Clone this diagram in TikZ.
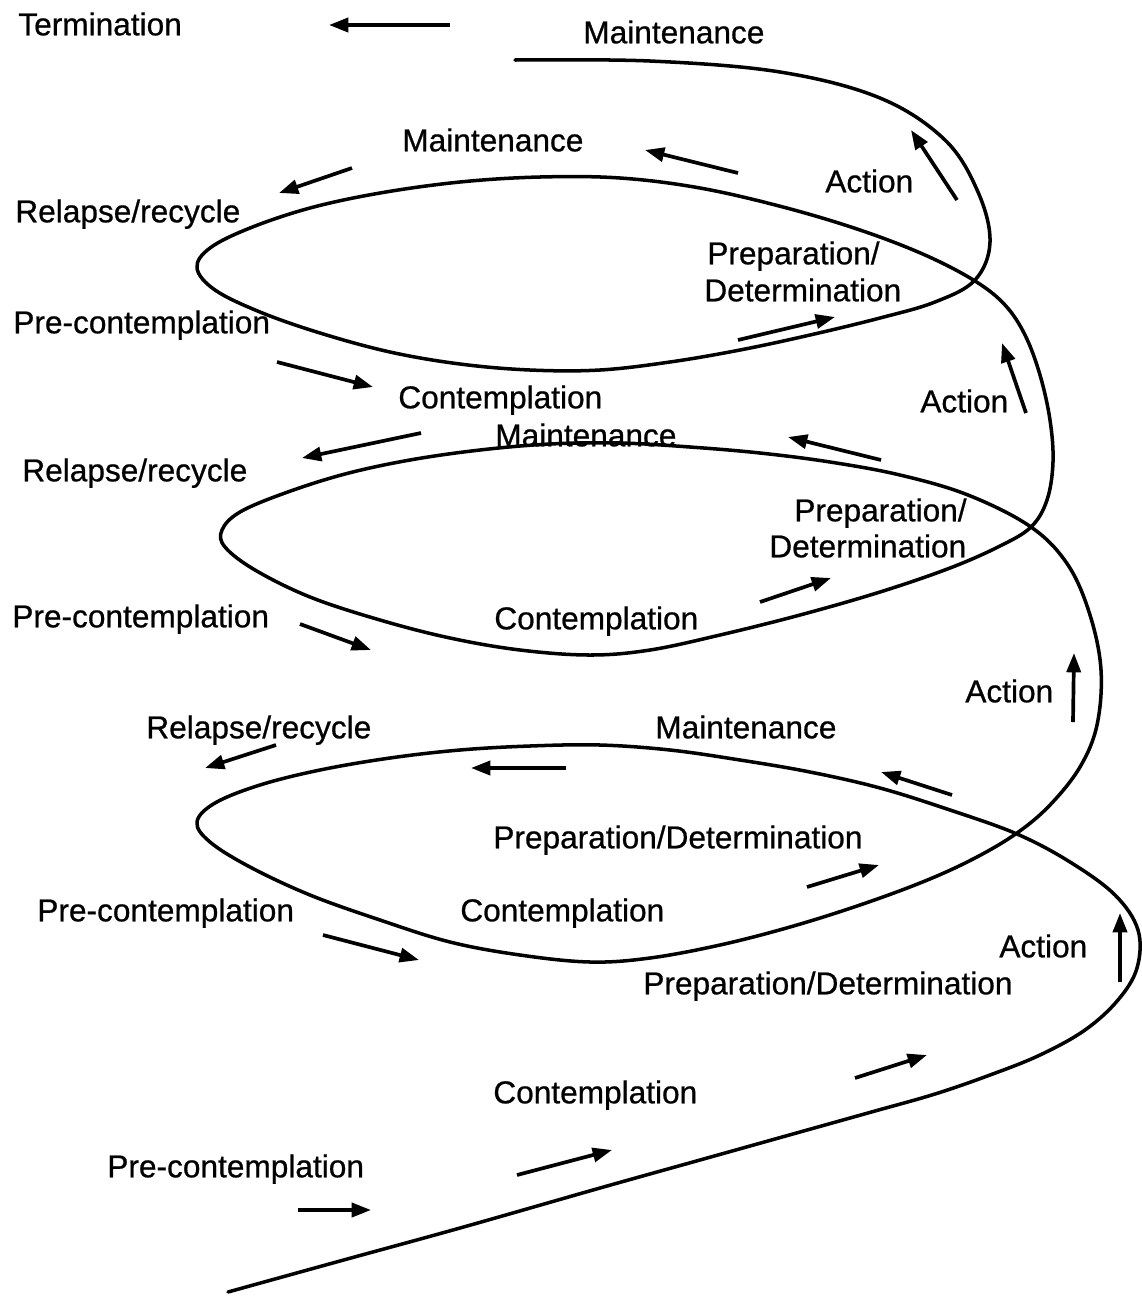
\documentclass[tikz,border=0pt]{standalone}
\usepackage{fontspec}
\setmainfont{Liberation Sans}
\newfontfamily\lblfont{Liberation Sans}[FakeBold=0.7]
\usetikzlibrary{arrows.meta}
\begin{document}
\begin{tikzpicture}[x=0.02cm,y=-0.02cm,
  lbl/.style={anchor=west,inner sep=0pt,text height=0.716em,text depth=0pt,font=\lblfont\fontsize{18}{20}\selectfont},
  arr/.style={line width=2.1pt,-{Triangle[length=11pt,width=8pt]}},
  spiral/.style={line width=2pt,line join=round,line cap=round}]
\useasboundingbox (0,0) rectangle (1142,1296);

% spiral
\draw[spiral] plot[smooth,tension=0.6] coordinates {
(515,60) (650,61) (780,72) (880,98) (945,140) (978,192) (990,242) (975,280)
(935,302) (880,318) (810,335) (740,350) (670,362) (600,370) (530,370) (460,364) (390,352)
(320,333) (260,312) (215,290) (197,268) (210,248) (250,228) (310,208) (380,193) (460,182)
(540,177) (620,178) (700,188) (783,207) (860,230) (925,255) (975,281) (1005,305) (1025,335)
(1040,375) (1050,420) (1053,462) (1047,500) (1031,527)
(1000,546) (950,568) (880,592) (800,615) (720,635) (650,650) (590,655) (520,650) (450,638)
(380,620) (310,597) (255,570) (225,547) (222,530) (240,512) (285,493) (345,474) (410,460)
(480,450) (550,444) (620,443) (690,447) (760,453) (830,462) (900,475) (968,495) (1031,527)
(1068,565) (1090,615) (1101,670) (1097,725) (1080,767) (1050,805) (1017,833)
(975,858) (925,881) (860,905) (790,927) (720,945) (650,958) (590,962) (520,955) (450,942)
(380,920) (310,895) (250,867) (210,842) (197,822) (215,803) (260,785) (320,770) (390,758)
(460,750) (530,746) (600,745) (670,750) (740,760) (810,772) (880,788) (950,810) (1017,834)
(1070,862) (1115,895) (1138,930) (1137,968) (1118,1000) (1085,1030) (1040,1055) (990,1075)
(935,1094) (875,1111) (800,1132) (700,1160) (600,1188) (460,1228) (340,1261) (228,1292)};

% labels
\node[lbl] (term) at (18,29) {Termination};
\node[lbl] (m0) at (583,37) {Maintenance};
\node[lbl] (m1) at (402,145) {Maintenance};
\node[lbl] (a1) at (825,186) {Action};
\node[lbl] (r1) at (15,216) {Relapse/recycle};
\node[lbl] (p1a) at (707,258) {Preparation/};
\node[lbl] (p1b) at (704,295) {Determination};
\node[lbl] (pc1) at (13,327) {Pre-contemplation};
\node[lbl] (c1) at (398,402) {Contemplation};
\node[lbl] (a2) at (920,406) {Action};
\node[lbl] (m2) at (495,440) {Maintenance};
\node[lbl] (r2) at (22,475) {Relapse/recycle};
\node[lbl] (p2a) at (794,515) {Preparation/};
\node[lbl] (p2b) at (769,551) {Determination};
\node[lbl] (pc2) at (12,621) {Pre-contemplation};
\node[lbl] (c2) at (494,623) {Contemplation};
\node[lbl] (a3) at (965,696) {Action};
\node[lbl] (r3) at (146,732) {Relapse/recycle};
\node[lbl] (m3) at (655,732) {Maintenance};
\node[lbl] (p3) at (493,842) {Preparation/Determination};
\node[lbl] (pc3) at (37,915) {Pre-contemplation};
\node[lbl] (c3) at (460,915) {Contemplation};
\node[lbl] (a4) at (999,951) {Action};
\node[lbl] (p4) at (643,988) {Preparation/Determination};
\node[lbl] (c4) at (493,1097) {Contemplation};
\node[lbl] (pc4) at (107,1171) {Pre-contemplation};

% arrows
\draw[arr] (450,25) -- (329,25);
\draw[arr] (352,168) -- (279,193);
\draw[arr] (738,173) -- (645,150);
\draw[arr] (957,200) -- (911,130);
\draw[arr] (738,340) -- (835,317);
\draw[arr] (277,362) -- (373,387);
\draw[arr] (1026,413) -- (1002,343);
\draw[arr] (421,433) -- (302,458);
\draw[arr] (881,460) -- (788,437);
\draw[arr] (760,602) -- (831,578);
\draw[arr] (300,624) -- (371,650);
\draw[arr] (1073,722) -- (1074,653);
\draw[arr] (276,745) -- (205,768);
\draw[arr] (566,768) -- (471,768);
\draw[arr] (952,795) -- (881,772);
\draw[arr] (807,887) -- (879,865);
\draw[arr] (323,935) -- (419,960);
\draw[arr] (1120,982) -- (1120,913);
\draw[arr] (855,1078) -- (927,1055);
\draw[arr] (517,1175) -- (612,1150);
\draw[arr] (298,1210) -- (371,1210);
\end{tikzpicture}
\end{document}
